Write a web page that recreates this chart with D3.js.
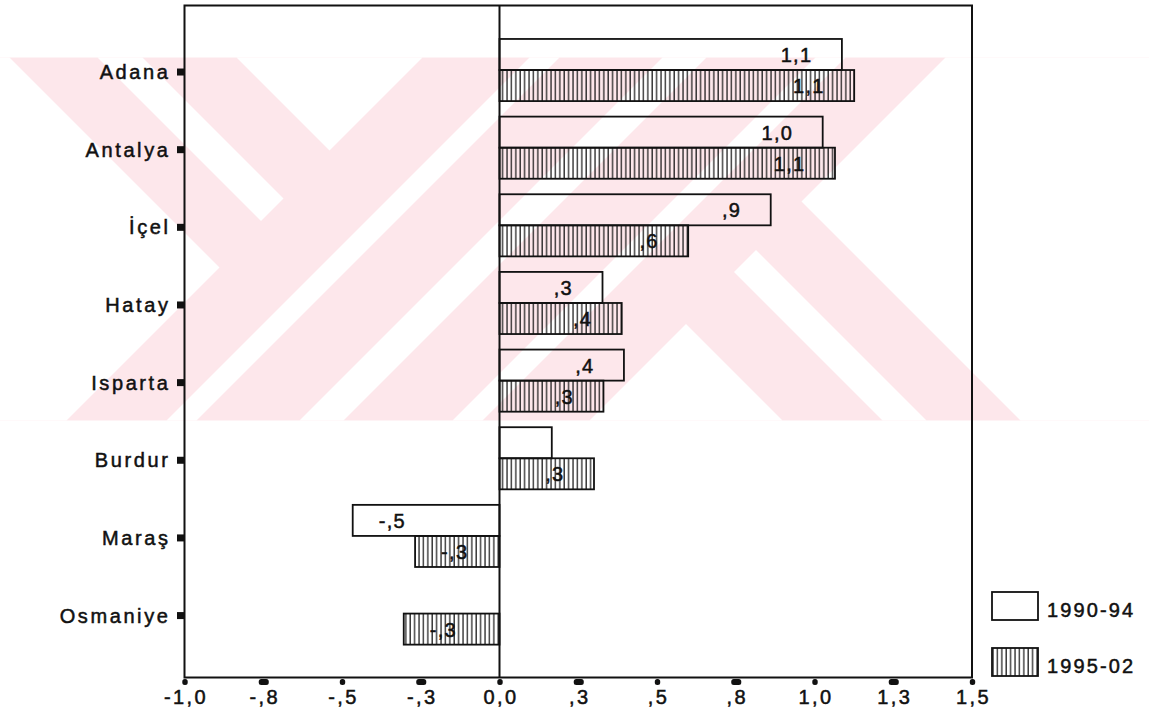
<!DOCTYPE html>
<html>
<head>
<meta charset="utf-8">
<script src="https://cdn.jsdelivr.net/npm/d3@7"></script>
<style>
  html, body { margin: 0; padding: 0; background: #fff; }
  svg { display: block; }
  text { font-family: "Liberation Sans", Arial, sans-serif; fill: #111; stroke: #111; stroke-width: 0.5px; }
</style>
</head>
<body>
<svg id="chart" width="1149" height="713"></svg>
<script>
// ---------------- data ----------------
const categories = ["Adana", "Antalya", "İçel", "Hatay", "Isparta", "Burdur", "Maraş", "Osmaniye"];
const seriesNames = ["1990-94", "1995-02"];
const values1990_94 = [1.087, 1.026, 0.861, 0.327, 0.395, 0.166, -0.466, null];
const values1995_02 = [1.126, 1.065, 0.599, 0.388, 0.330, 0.300, -0.268, -0.304];
const xTickValues = [-1, -0.75, -0.5, -0.25, 0, 0.25, 0.5, 0.75, 1, 1.25, 1.5];
const xTickLabels = ["-1,0", "-,8", "-,5", "-,3", "0,0", ",3", ",5", ",8", "1,0", "1,3", "1,5"];

const seriesValues = [values1990_94, values1995_02];

// ---------------- setup ----------------
const svg = d3.select("#chart");
const W = 1149, H = 713;
const plot = { left: 184.5, right: 972, top: 5.5, bottom: 677.5 };

const x = d3.scaleLinear().domain([-1, 1.5]).range([plot.left, plot.right]);
const y = d3.scaleBand().domain(categories).range([31.2, 652.4]).paddingInner(0.2).paddingOuter(0.1);
const ySub = d3.scaleBand().domain(seriesNames).range([0, y.bandwidth()]).padding(0);

const defs = svg.append("defs");
const hatch = defs.append("pattern")
  .attr("id", "hatch").attr("patternUnits", "userSpaceOnUse")
  .attr("width", 4.4).attr("height", 10);
hatch.append("line").attr("x1", 1).attr("x2", 1).attr("y1", 0).attr("y2", 10)
  .attr("stroke", "#111").attr("stroke-width", 1.2);

// ---------------- watermark (decorative background) ----------------
function clip(poly, a, b, c) { // keep a*x + b*y <= c
  const out = [];
  for (let i = 0; i < poly.length; i++) {
    const P = poly[i], Q = poly[(i + 1) % poly.length];
    const fp = a * P[0] + b * P[1] - c, fq = a * Q[0] + b * Q[1] - c;
    if (fp <= 0) out.push(P);
    if ((fp < 0 && fq > 0) || (fp > 0 && fq < 0)) {
      const t = fp / (fp - fq);
      out.push([P[0] + t * (Q[0] - P[0]), P[1] + t * (Q[1] - P[1])]);
    }
  }
  return out;
}
const band = [[0, 57.5], [W, 57.5], [W, 420.5], [0, 420.5]];
const dLt = k => [1, -1, k], dGt = k => [-1, 1, -k], sLt = k => [1, 1, k], sGt = k => [-1, -1, -k];
const whitePieces = [
  [dLt(-48), sLt(487)],
  [dGt(40), dLt(85), sLt(482)],
  [dGt(179), sLt(480)],
  [sGt(587), sLt(617)],
  [sGt(720), sLt(764)],
  [sGt(873), sLt(903)],
  [dLt(362), sGt(1010)],
  [dGt(462), dLt(506), sGt(1006)],
  [dGt(600), sGt(1003)]
];
const wm = svg.append("g").attr("class", "watermark");
wm.append("polygon").attr("points", band.map(p => p.join(",")).join(" ")).attr("fill", "#fde7eb");
whitePieces.forEach(cons => {
  let poly = band;
  cons.forEach(c => { poly = clip(poly, c[0], c[1], c[2]); });
  if (poly.length > 2) wm.append("polygon").attr("points", poly.map(p => p.join(",")).join(" ")).attr("fill", "#fff");
});

// ---------------- bars ----------------
const rows = [];
categories.forEach((c, i) => {
  seriesNames.forEach((s, j) => {
    const v = seriesValues[j][i];
    if (v !== null && v !== undefined) rows.push({ cat: c, series: s, j, v });
  });
});

const barG = svg.append("g");
barG.selectAll("rect.bar").data(rows).join("rect")
  .attr("class", "bar")
  .attr("x", d => x(Math.min(0, d.v)))
  .attr("width", d => Math.abs(x(d.v) - x(0)))
  .attr("y", d => y(d.cat) + ySub(d.series))
  .attr("height", ySub.bandwidth())
  .attr("fill", d => d.j === 0 ? "none" : "url(#hatch)")
  .attr("stroke", "#111").attr("stroke-width", 1.8);

const fmt = v => {
  let s = d3.format(".1f")(v).replace("−", "-");
  s = s.replace(/^(-?)0\./, "$1.");
  return s.replace(".", ",");
};
barG.selectAll("text.val").data(rows.filter(d => Math.abs(x(d.v) - x(0)) > 55)).join("text")
  .attr("class", "val")
  .attr("x", d => d.v >= 0 ? x(d.v) - 29.5 : x(d.v) + 26)
  .attr("y", d => y(d.cat) + ySub(d.series) + ySub.bandwidth() / 2 + 7.5)
  .attr("text-anchor", d => d.v >= 0 ? "end" : "start")
  .style("font-size", "20px").style("letter-spacing", "1.3px")
  .text(d => fmt(d.v));

// ---------------- frame & zero line ----------------
svg.append("rect").attr("x", plot.left).attr("y", plot.top)
  .attr("width", plot.right - plot.left).attr("height", plot.bottom - plot.top)
  .attr("fill", "none").attr("stroke", "#111").attr("stroke-width", 2);
svg.append("line").attr("x1", x(0)).attr("x2", x(0)).attr("y1", plot.top).attr("y2", plot.bottom)
  .attr("stroke", "#111").attr("stroke-width", 2);

// ---------------- x axis ----------------
const xAxis = d3.axisBottom(x).tickValues(xTickValues)
  .tickFormat((d, i) => xTickLabels[i]).tickSize(0).tickPadding(0);
const gx = svg.append("g").attr("transform", `translate(0,${plot.bottom})`).call(xAxis);
gx.attr("font-size", null).attr("font-family", null);
gx.select(".domain").remove();
gx.selectAll(".tick line").remove();
gx.selectAll(".tick").append("rect")
  .attr("x", (d, i) => (i % 2 === 1 ? -5 : -2.7))
  .attr("width", (d, i) => (i % 2 === 1 ? 10 : 5.4))
  .attr("y", 1.5).attr("height", 6).attr("rx", 2.5)
  .attr("fill", "#111");
gx.selectAll(".tick text")
  .attr("y", 26.5).attr("dy", 0).attr("dx", 1)
  .style("font-size", "20px").style("letter-spacing", "2.4px");

// ---------------- y axis ----------------
const yAxis = d3.axisLeft(y).tickSize(0).tickPadding(0);
const gy = svg.append("g").attr("transform", `translate(${plot.left},0)`).call(yAxis);
gy.attr("font-size", null).attr("font-family", null);
gy.select(".domain").remove();
gy.selectAll(".tick line").remove();
gy.selectAll(".tick").append("rect")
  .attr("x", -7.5).attr("width", 7).attr("y", -1.5).attr("height", 7).attr("fill", "#111");
gy.selectAll(".tick text")
  .attr("x", -14).attr("dy", 0).attr("y", 9)
  .attr("text-anchor", "end")
  .style("font-size", "20px").style("letter-spacing", "2.6px");

// ---------------- legend ----------------
const legend = svg.append("g").attr("transform", "translate(992,592)");
const lg = legend.selectAll("g").data(seriesNames).join("g")
  .attr("transform", (d, i) => `translate(0,${i * 56})`);
lg.append("rect").attr("x", 0).attr("y", 0).attr("width", 46).attr("height", 28)
  .attr("fill", (d, i) => i === 0 ? "#fff" : "url(#hatch)")
  .attr("stroke", "#111").attr("stroke-width", 1.8);
lg.append("text").attr("x", 55).attr("y", 24.5)
  .style("font-size", "20px").style("letter-spacing", "2.1px")
  .text(d => d);
</script>
</body>
</html>
